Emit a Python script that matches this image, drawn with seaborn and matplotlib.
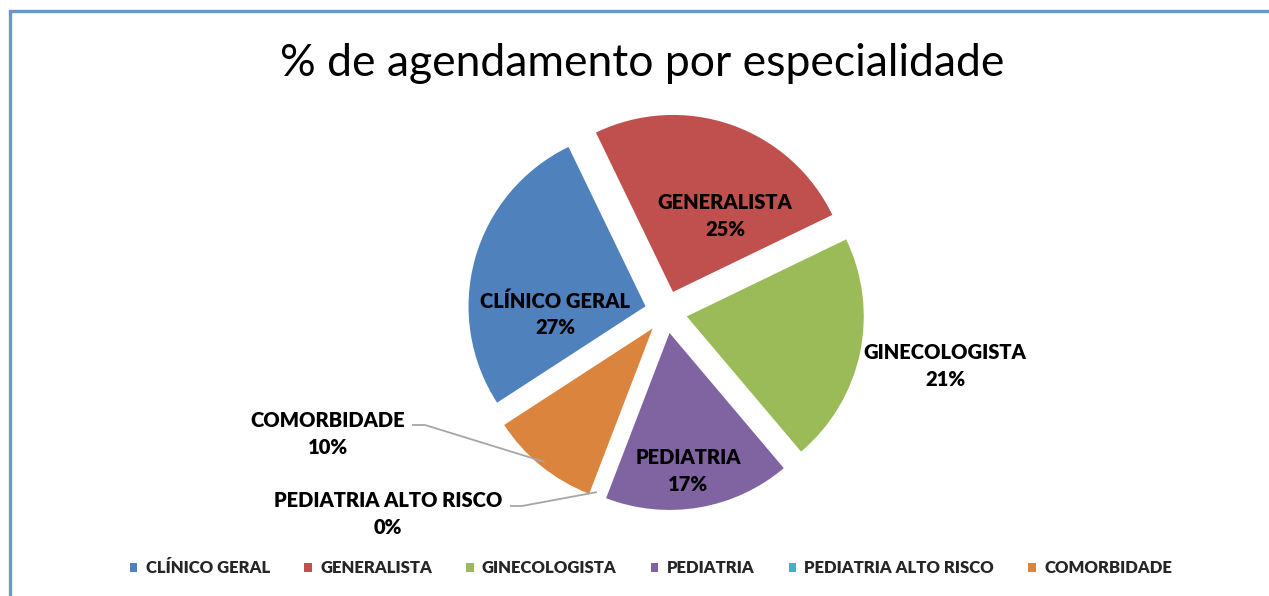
import matplotlib
matplotlib.use('Agg')
import matplotlib.pyplot as plt
from matplotlib.lines import Line2D
import numpy as np
import seaborn as sns

# dados
especialidades = ['CLÍNICO GERAL', 'GENERALISTA', 'GINECOLOGISTA', 'PEDIATRIA',
                  'PEDIATRIA ALTO RISCO', 'COMORBIDADE']
percentuais = [27, 25, 21, 17, 0, 10]
cores = ['#4F81BD', '#C0504D', '#9BBB59', '#8064A2', '#4BACC6', '#DB843D']

# posicao dos rotulos em pixels (origem em cima a esquerda)
pos_rotulos = [(555, 314), (725, 216), (945, 366), (688, 471), (388, 514), (328, 434)]
# inicio das linhas de chamada (x0, x1, y) em pixels
chamadas = {4: (510, 522, 506), 5: (412, 425, 425)}

sns.set_theme(style='white')
plt.rcParams['font.family'] = ['Lato', 'DejaVu Sans']

W, H = 1269, 596
fig = plt.figure(figsize=(W / 100, H / 100), dpi=100)
ax = fig.add_axes([0, 0, 1, 1])

# centro e raio do grafico em pixels
cx, cy, raio = 666, 312, 177


def px(x, y):
    return (x - cx) / raio, (cy - y) / raio


wedges, _ = ax.pie(percentuais, colors=cores, startangle=213, counterclock=False,
                   explode=[0.12] * len(percentuais), wedgeprops=dict(linewidth=0))
ax.set_xlim(-cx / raio, (W - cx) / raio)
ax.set_ylim((cy - H) / raio, cy / raio)
ax.set_aspect('equal')
ax.axis('off')

# rotulos com nome e percentagem
for i, (nome, val) in enumerate(zip(especialidades, percentuais)):
    x, y = pos_rotulos[i]
    fig.text(x / W, 1 - y / H, f'{nome}\n{val}%', ha='center', va='center',
             fontsize=14.5, fontweight='heavy', linespacing=1.45, color='black')

# linhas de chamada
for i, (x0, x1, y) in chamadas.items():
    w = wedges[i]
    ang = np.deg2rad((w.theta1 + w.theta2) / 2)
    ex = w.center[0] + 0.97 * w.r * np.cos(ang)
    ey = w.center[1] + 0.97 * w.r * np.sin(ang)
    a = px(x0, y)
    b = px(x1, y)
    ax.plot([a[0], b[0], ex], [a[1], b[1], ey], color='#A6A6A6', lw=1.3,
            solid_capstyle='butt', zorder=5)

# titulo
fig.text(642 / W, 1 - 63 / H, '% de agendamento por especialidade', ha='center',
         va='center', fontsize=32, color='black')

# legenda
fig.legend(wedges, especialidades, loc='center', bbox_to_anchor=(651 / W, 1 - 568 / H),
           ncol=6, frameon=False, handlelength=0.45, handleheight=0.45,
           handletextpad=0.5, columnspacing=2.05,
           prop=dict(weight='heavy', size=12))

# borda da area do grafico
borda = Line2D([10 / W, 10 / W, 1], [0, 1 - 11 / H, 1 - 11 / H], transform=fig.transFigure,
               color='#6B96C8', lw=2.4, solid_joinstyle='miter')
fig.add_artist(borda)

fig.savefig('out.png', dpi=100, facecolor='white')
